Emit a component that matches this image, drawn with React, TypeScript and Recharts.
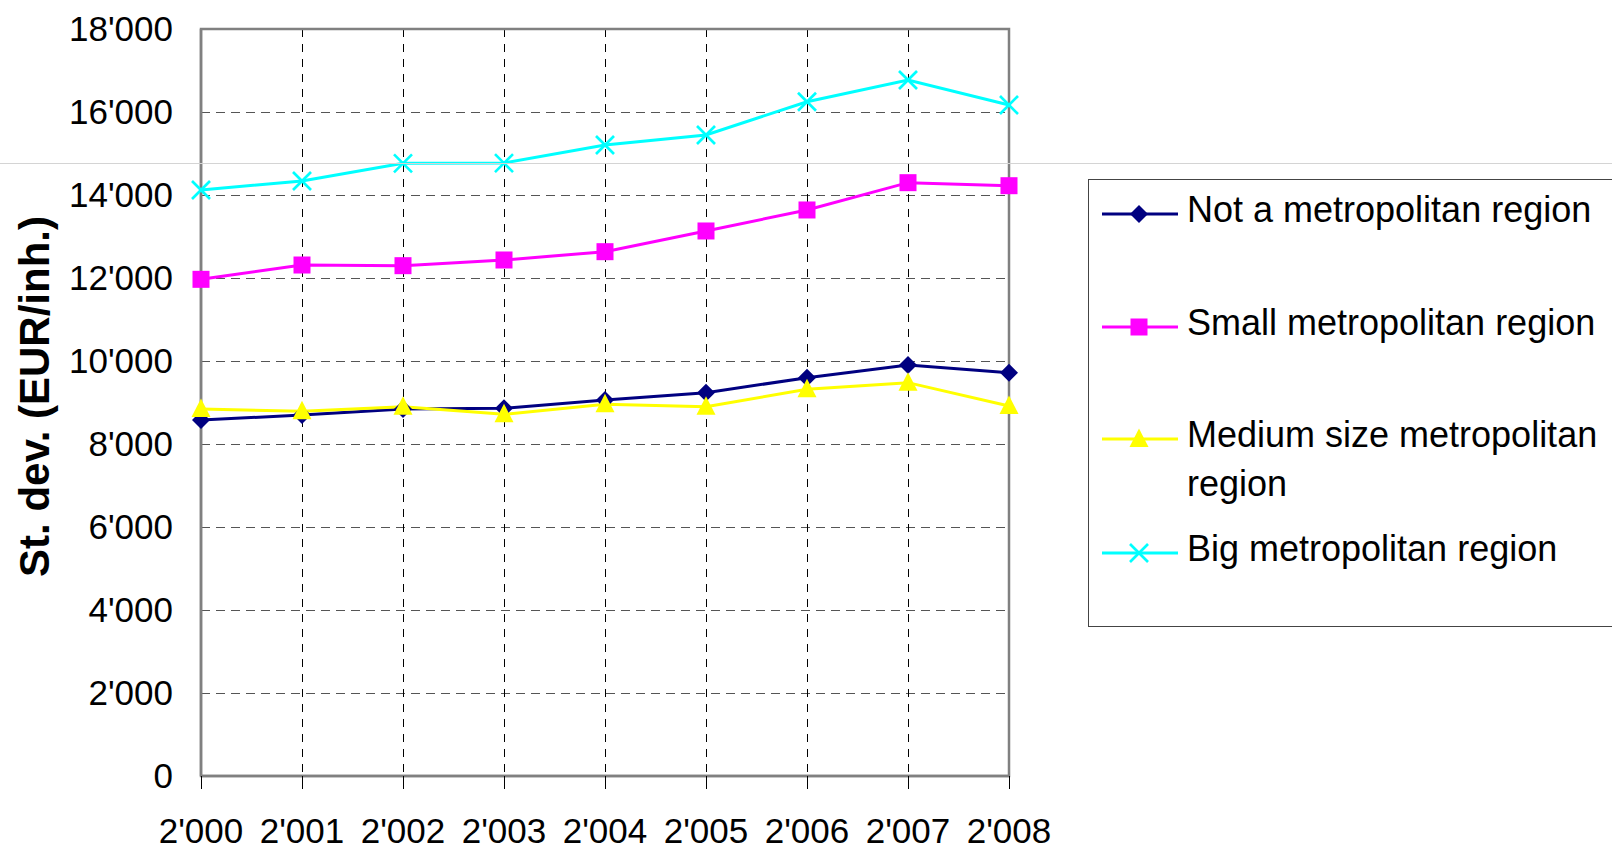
import React from 'react';
import {
  LineChart,
  Line,
  XAxis,
  YAxis,
  CartesianGrid,
  ReferenceArea,
} from 'recharts';

// ---- Data ----
const years = ["2'000", "2'001", "2'002", "2'003", "2'004", "2'005", "2'006", "2'007", "2'008"];
const notMetro = [8578, 8699, 8843, 8860, 9060, 9236, 9598, 9904, 9718];
const smallMetro = [11968, 12313, 12297, 12434, 12634, 13133, 13639, 14297, 14224];
const mediumMetro = [8843, 8787, 8900, 8715, 8956, 8899, 9318, 9478, 8916];
const bigMetro = [14120, 14337, 14763, 14770, 15205, 15446, 16248, 16771, 16169];
const yTicks = [0, 2000, 4000, 6000, 8000, 10000, 12000, 14000, 16000, 18000];
const seriesNames = [
  'Not a metropolitan region',
  'Small metropolitan region',
  'Medium size metropolitan region',
  'Big metropolitan region',
];
const yAxisTitle = 'St. dev. (EUR/inh.)';

const FONT = '"Liberation Sans", Arial, Helvetica, sans-serif';

type Shape = 'diamond' | 'square' | 'triangle' | 'cross';

const series: { key: string; name: string; color: string; shape: Shape; values: number[] }[] = [
  { key: 'notMetro', name: seriesNames[0], color: '#000080', shape: 'diamond', values: notMetro },
  { key: 'smallMetro', name: seriesNames[1], color: '#FF00FF', shape: 'square', values: smallMetro },
  { key: 'mediumMetro', name: seriesNames[2], color: '#FFFF00', shape: 'triangle', values: mediumMetro },
  { key: 'bigMetro', name: seriesNames[3], color: '#00FFFF', shape: 'cross', values: bigMetro },
];

const data = years.map((y, i) => {
  const row: Record<string, string | number> = { year: y };
  series.forEach((s) => {
    row[s.key] = s.values[i];
  });
  return row;
});

const formatThousands = (v: number) =>
  String(v).replace(/\B(?=(\d{3})+(?!\d))/g, "'");

function Marker({ shape, cx, cy, color }: { shape: Shape; cx: number; cy: number; color: string }) {
  if (shape === 'diamond') {
    const s = 9;
    return (
      <polygon
        points={`${cx},${cy - s} ${cx + s},${cy} ${cx},${cy + s} ${cx - s},${cy}`}
        fill={color}
      />
    );
  }
  if (shape === 'square') {
    const s = 8.5;
    return <rect x={cx - s} y={cy - s} width={s * 2} height={s * 2} fill={color} />;
  }
  if (shape === 'triangle') {
    return (
      <polygon
        points={`${cx},${cy - 10.5} ${cx + 9.5},${cy + 8} ${cx - 9.5},${cy + 8}`}
        fill={color}
      />
    );
  }
  const s = 9;
  return (
    <g stroke={color} strokeWidth={2.6}>
      <line x1={cx - s} y1={cy - s} x2={cx + s} y2={cy + s} />
      <line x1={cx - s} y1={cy + s} x2={cx + s} y2={cy - s} />
    </g>
  );
}

const makeDot = (shape: Shape, color: string) => (props: any) => {
  const { cx, cy, index } = props;
  if (cx == null || cy == null) return <g key={`d-${shape}-${index}`} />;
  return (
    <g key={`d-${shape}-${index}`}>
      <Marker shape={shape} cx={cx} cy={cy} color={color} />
    </g>
  );
};

const YTitle = (props: any) => {
  const vb = props.viewBox || { x: 0, y: 0, width: 0, height: 0 };
  const cx = vb.x + 34;
  const cy = vb.y + vb.height / 2 - 6;
  return (
    <text
      x={cx}
      y={cy}
      dy="0.36em"
      transform={`rotate(-90, ${cx}, ${cy})`}
      textAnchor="middle"
      fontFamily={FONT}
      fontWeight="bold"
      fontSize={42}
      fill="#000"
    >
      {yAxisTitle}
    </text>
  );
};

function LegendBox() {
  const firstLineCenters = [213, 326, 438, 552];
  const boxLeft = 1088;
  const boxTop = 179;
  return (
    <div
      style={{
        position: 'absolute',
        left: boxLeft,
        top: boxTop,
        width: 600,
        height: 448,
        border: '1px solid #444',
        boxSizing: 'border-box',
        background: '#fff',
      }}
    >
      {series.map((s, i) => {
        const cy = firstLineCenters[i] - boxTop;
        return (
          <div key={s.key}>
            <svg
              style={{ position: 'absolute', left: 1101 - boxLeft, top: cy - 12 }}
              width={80}
              height={24}
            >
              <line x1={0} y1={12} x2={76} y2={12} stroke={s.color} strokeWidth={3} />
              <Marker shape={s.shape} cx={37} cy={12} color={s.color} />
            </svg>
            <div
              style={{
                position: 'absolute',
                left: 1186 - boxLeft,
                top: cy - 29,
                width: 420,
                fontFamily: FONT,
                fontSize: 36,
                lineHeight: '49px',
                color: '#000',
              }}
            >
              {s.name}
            </div>
          </div>
        );
      })}
    </div>
  );
}

export default function App() {
  return (
    <div
      style={{
        position: 'absolute',
        left: 0,
        top: 0,
        width: 1612,
        height: 849,
        overflow: 'hidden',
        background: '#fff',
      }}
    >
      <LineChart
        width={1612}
        height={849}
        data={data}
        margin={{ top: 29, right: 603, bottom: 0, left: 0 }}
      >
        <CartesianGrid
          horizontal={true}
          vertical={false}
          stroke="#555"
          strokeDasharray="9 6"
          strokeWidth={1}
          shapeRendering="crispEdges"
        />
        <CartesianGrid
          horizontal={false}
          vertical={true}
          stroke="#000"
          strokeDasharray="8 7"
          strokeWidth={1}
          shapeRendering="crispEdges"
        />
        <ReferenceArea
          x1={years[0]}
          x2={years[years.length - 1]}
          y1={0}
          y2={18000}
          fill="none"
          fillOpacity={0}
          stroke="#808080"
          strokeWidth={2.5}
          ifOverflow="visible"
        />
        <XAxis
          dataKey="year"
          height={73}
          interval={0}
          axisLine={{ stroke: '#808080', strokeWidth: 2.5 }}
          tickLine={{ stroke: '#000', strokeWidth: 1, shapeRendering: 'crispEdges' }}
          tickSize={13}
          tickMargin={29}
          tick={{ fontSize: 35, fill: '#000', fontFamily: FONT }}
        />
        <YAxis
          width={201}
          domain={[0, 18000]}
          ticks={yTicks}
          interval={0}
          tickFormatter={formatThousands}
          axisLine={{ stroke: '#808080', strokeWidth: 2.5 }}
          tickLine={false}
          tickSize={0}
          tickMargin={28}
          tick={{ fontSize: 35, fill: '#000', fontFamily: FONT }}
          label={<YTitle />}
        />
        {series.map((s) => (
          <Line
            key={s.key}
            type="linear"
            dataKey={s.key}
            name={s.name}
            stroke={s.color}
            strokeWidth={3}
            dot={makeDot(s.shape, s.color)}
            activeDot={false}
            isAnimationActive={false}
          />
        ))}
      </LineChart>
      <LegendBox />
      <div
        style={{
          position: 'absolute',
          left: 0,
          top: 163,
          width: 1612,
          height: 1,
          background: '#d4d4d4',
        }}
      />
    </div>
  );
}
